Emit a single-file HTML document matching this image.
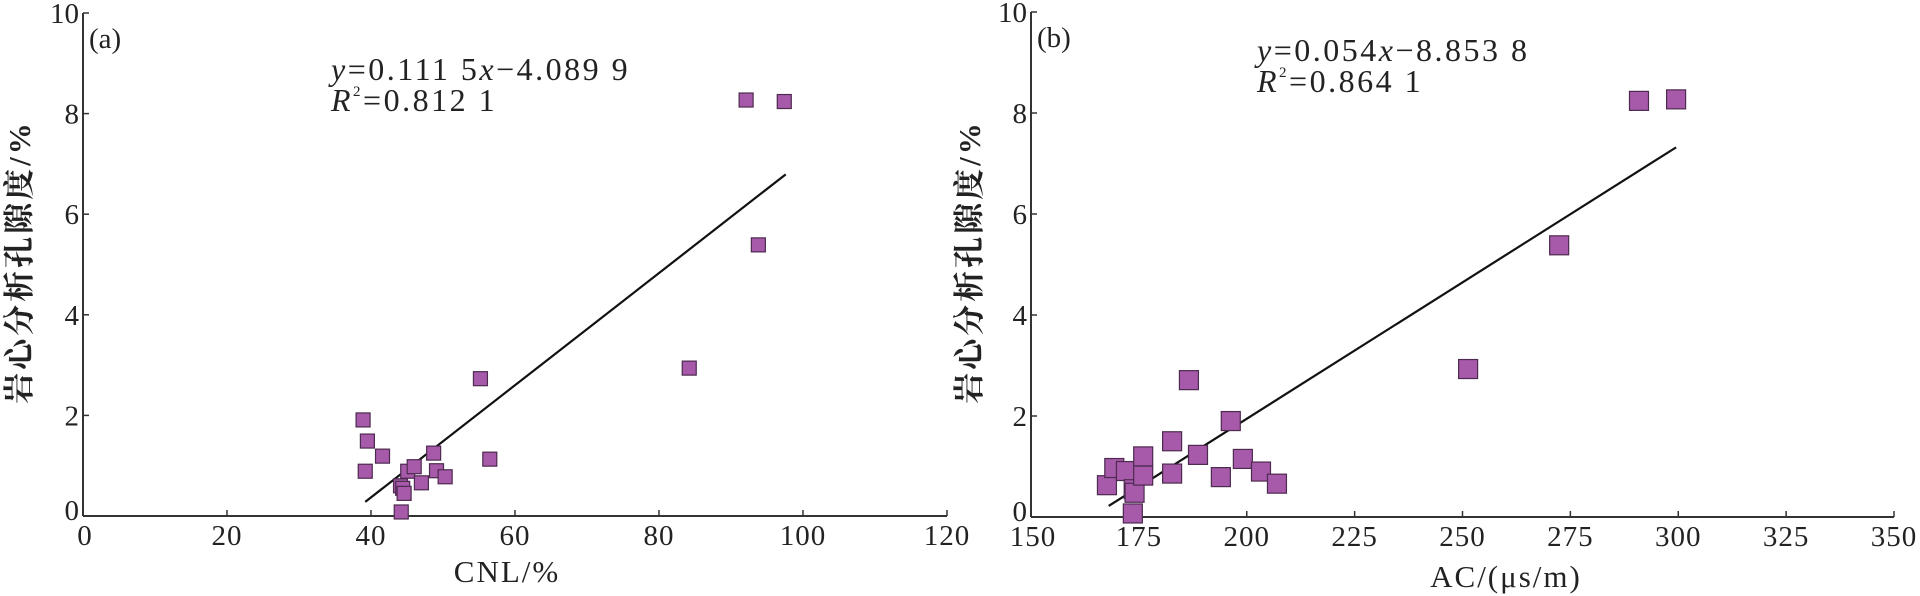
<!DOCTYPE html>
<html><head><meta charset="utf-8"><style>
html,body{margin:0;padding:0;background:#fff;}
svg{display:block;}
text{font-family:"Liberation Serif","Noto Serif CJK SC",serif;fill:#222;}
</style></head><body>
<svg id="chart" width="1920" height="596" viewBox="0 0 1920 596" xmlns="http://www.w3.org/2000/svg">
<g id="pa"></g>
<g id="pb"></g>
</svg>
<script>
const cnlX=[38.9,39.5,39.2,41.6,44.1,44.4,44.6,44.2,45.1,46.0,47.0,48.7,49.1,50.3,55.2,56.5,84.2,92.1,93.8,97.4];
const cnlY=[1.91,1.49,0.89,1.19,0.60,0.55,0.45,0.08,0.89,0.98,0.66,1.25,0.90,0.78,2.73,1.13,2.94,8.27,5.39,8.24];
const acX=[167.6,169.3,172.0,173.8,174.0,173.6,176.0,176.0,182.7,182.7,186.6,188.7,194.0,196.3,199.1,203.3,207.0,251.3,272.4,290.9,299.5];
const acY=[0.63,0.97,0.91,0.55,0.48,0.07,1.20,0.82,1.50,0.86,2.71,1.23,0.79,1.90,1.15,0.90,0.66,2.93,5.38,8.24,8.27];
const cnlTicks=[0,20,40,60,80,100,120];
const acTicks=[150,175,200,225,250,275,300,325,350];
const yTicks=[0,2,4,6,8,10];
const fitA=[0.1115,-4.0899,39.2,97.6];
const fitB=[0.054,-8.8538,168,299.5];
const NS='http://www.w3.org/2000/svg';
function mk(parent,tag,attrs,txt){const e=document.createElementNS(NS,tag);for(const k in attrs)e.setAttribute(k,attrs[k]);if(txt!==undefined)e.textContent=txt;parent.appendChild(e);return e;}
function panel(g,cfg){
  const sx=v=>cfg.x0+(v-cfg.xmin)/(cfg.xmax-cfg.xmin)*(cfg.x1-cfg.x0);
  const sy=v=>cfg.y0-v/10*(cfg.y0-cfg.y1);
  let e;
  e=mk(g,'line',{x1:cfg.x0,y1:cfg.y0,x2:cfg.x1,y2:cfg.y0,stroke:'#333','stroke-width':2});
  
  
  e=mk(g,'line',{x1:cfg.x0,y1:cfg.y0,x2:cfg.x0,y2:cfg.y1,stroke:'#333','stroke-width':2});
  
  
  cfg.xt.forEach(t=>{
    const x=sx(t);
    e=mk(g,'line',{x1:x,y1:cfg.y0,x2:x,y2:cfg.y0-6,stroke:'#333','stroke-width':1.5});
    
    
    e=mk(g,'text',{x:t===cfg.xmin?x+2:x,y:cfg.y0+29,'font-size':29,'text-anchor':'middle','letter-spacing':'1'},String(t));
    
    
  });
  yTicks.forEach(t=>{
    const y=sy(t);
    e=mk(g,'line',{x1:cfg.x0,y1:y,x2:cfg.x0+6,y2:y,stroke:'#333','stroke-width':1.5});
    
    
    e=mk(g,'text',{x:cfg.x0-4,y:y+(t===0?4:10),'font-size':29,'text-anchor':'end'},String(t));
    
    
  });
  const f=cfg.fit;
  e=mk(g,'line',{x1:sx(f[2]),y1:sy(f[0]*f[2]+f[1]),x2:sx(f[3]),y2:sy(f[0]*f[3]+f[1]),stroke:'#111','stroke-width':2.2});
  
  
  const s=cfg.ms;
  cfg.xs.forEach((v,i)=>{
    e=mk(g,'rect',{x:sx(v)-s/2,y:sy(cfg.ys[i])-s/2,width:s,height:s,fill:'#a75aa9',stroke:'#4d2a4f','stroke-width':1.2});
    
    
  });
  e=mk(g,'text',{x:cfg.x0+6,y:cfg.y1+35,'font-size':29},cfg.tag);
  
  
  e=mk(g,'text',{x:cfg.eqx,y:cfg.eqy,'font-size':32,'letter-spacing':'2.5'});
  
  
  mk(e,'tspan',{'font-style':'italic'},'y');
  mk(e,'tspan',{},cfg.eq1);
  mk(e,'tspan',{'font-style':'italic'},'x');
  mk(e,'tspan',{},cfg.eq2);
  e=mk(g,'text',{x:cfg.eqx,y:cfg.eqy+31,'font-size':32,'letter-spacing':'2.5'});
  
  
  mk(e,'tspan',{'font-style':'italic'},'R');
  mk(e,'tspan',{'font-size':15,dy:-15},'2');
  mk(e,'tspan',{dy:15},cfg.r2);
  e=mk(g,'text',{x:cfg.tx,y:cfg.ty,'font-size':31,'text-anchor':'middle','letter-spacing':'2'},cfg.xlabel);
  
  
  const yc=262;
  e=mk(g,'text',{x:0,y:0,'font-size':31,'font-weight':'bold','text-anchor':'middle','letter-spacing':'3',transform:`translate(${cfg.yx},${yc}) rotate(-90)`},'岩心分析孔隙度/%');
  
  
}
panel(document.getElementById('pa'),{x0:83,x1:947,xmin:0,xmax:120,y0:516,y1:13,xt:cnlTicks,xs:cnlX,ys:cnlY,fit:fitA,ms:14,tag:'(a)',eq1:'=0.111 5',eq2:'−4.089 9',r2:'=0.812 1',eqx:331,eqy:80,xlabel:'CNL/%',tx:507,ty:582,yx:30});
panel(document.getElementById('pb'),{x0:1031,x1:1894,xmin:150,xmax:350,y0:517,y1:12,xt:acTicks,xs:acX,ys:acY,fit:fitB,ms:19,tag:'(b)',eq1:'=0.054',eq2:'−8.853 8',r2:'=0.864 1',eqx:1257,eqy:61,xlabel:'AC/(μs/m)',tx:1506,ty:587,yx:980});
</script>
</body></html>
